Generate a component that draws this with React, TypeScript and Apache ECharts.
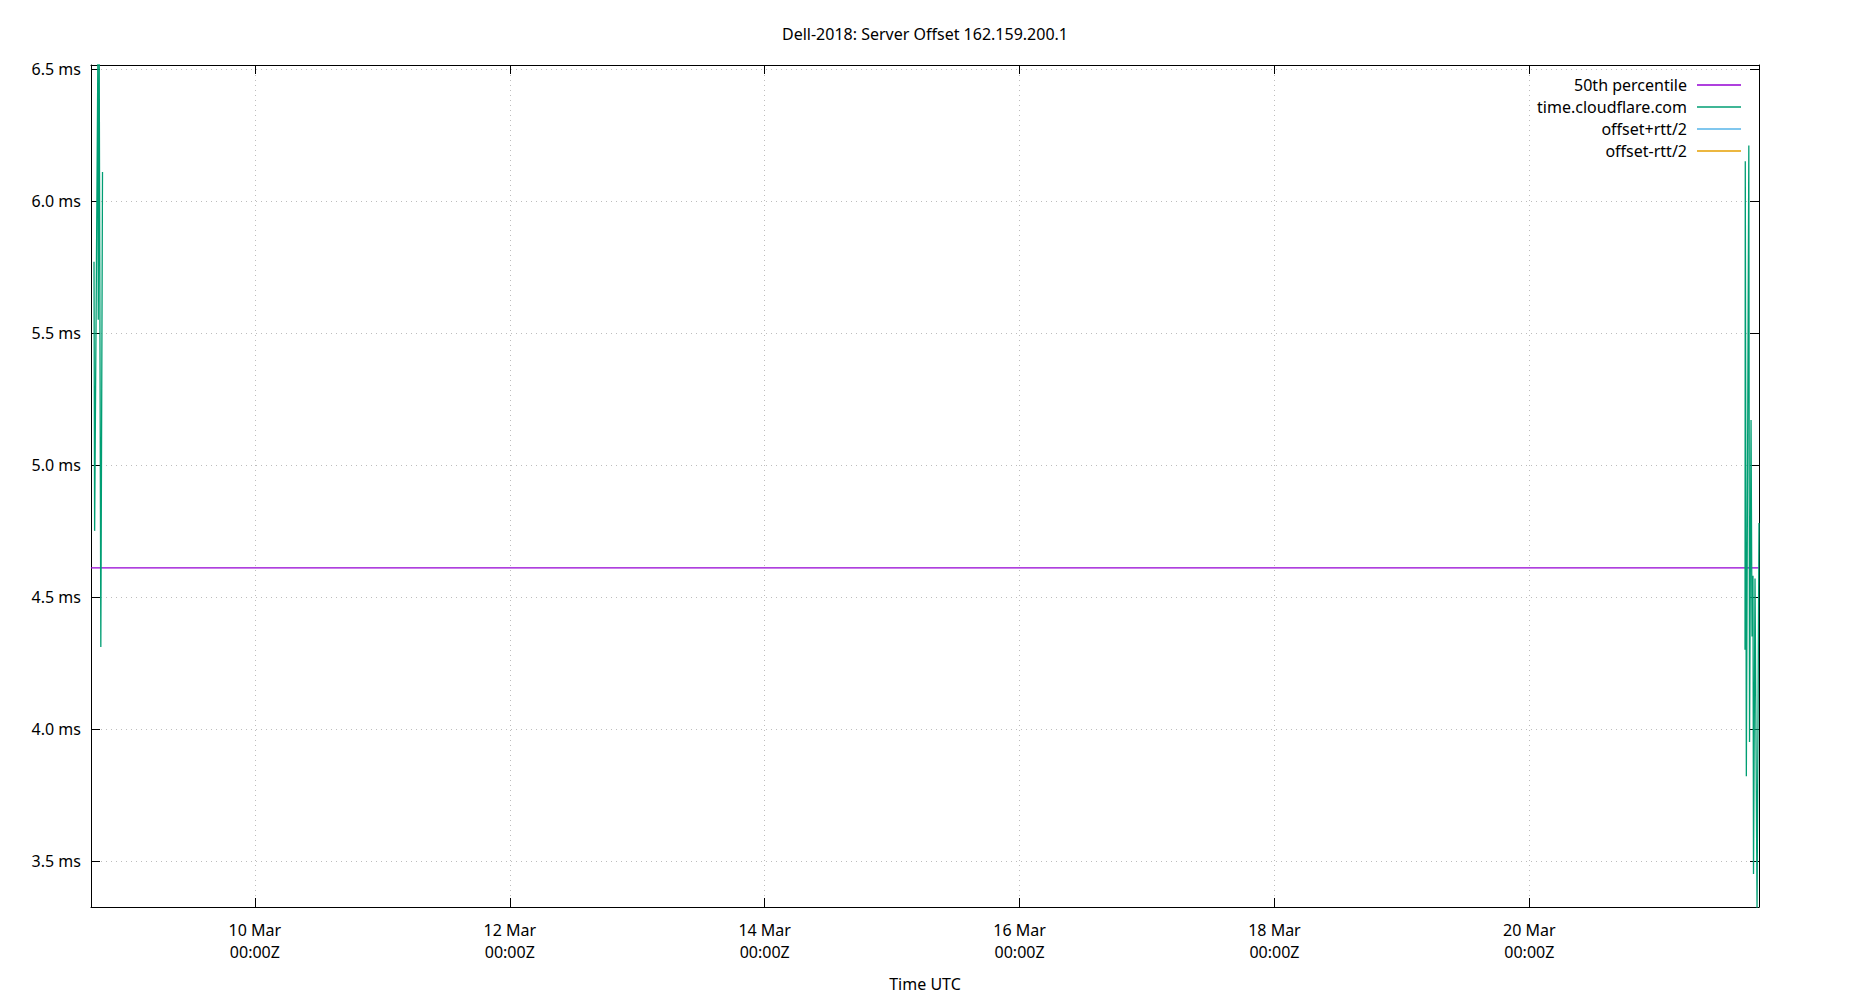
import React, { useEffect, useRef } from "react";
import * as echarts from "echarts";

const TITLE = "Dell-2018: Server Offset 162.159.200.1";
const X_NAME = "Time UTC";
const FONT = "Noto Sans";

const X_MIN = "2024-03-08T17:08:00Z";
const X_MAX = "2024-03-21T19:15:00Z";
const Y_MIN = 3.325;
const Y_MAX = 6.515;

const xTickDates = [
  "2024-03-10T00:00:00Z",
  "2024-03-12T00:00:00Z",
  "2024-03-14T00:00:00Z",
  "2024-03-16T00:00:00Z",
  "2024-03-18T00:00:00Z",
  "2024-03-20T00:00:00Z",
];
const yTicks = [3.5, 4.0, 4.5, 5.0, 5.5, 6.0, 6.5];

const seriesNames = ["50th percentile", "time.cloudflare.com", "offset+rtt/2", "offset-rtt/2"];
const seriesColors = ["#9400d3", "#009e73", "#56b4e9", "#e69f00"];

// 50th percentile (ms)
const medianValue = 4.61;

// time.cloudflare.com offset (ms); null marks a gap in the data
const offsetTimes = [
  "2024-03-08T17:42:00Z",
  "2024-03-08T17:49:00Z",
  "2024-03-08T18:25:00Z",
  "2024-03-08T18:30:00Z",
  "2024-03-08T18:41:00Z",
  "2024-03-08T18:59:00Z",
  "2024-03-08T19:18:00Z",
  "2024-03-15T00:00:00Z",
  "2024-03-21T16:37:00Z",
  "2024-03-21T16:40:00Z",
  "2024-03-21T16:52:00Z",
  "2024-03-21T17:20:00Z",
  "2024-03-21T17:28:00Z",
  "2024-03-21T17:45:00Z",
  "2024-03-21T17:56:00Z",
  "2024-03-21T18:07:00Z",
  "2024-03-21T18:13:00Z",
  "2024-03-21T18:30:00Z",
  "2024-03-21T18:53:00Z",
  "2024-03-21T19:15:00Z",
];
const offsetValues: (number | null)[] = [
  5.77, 4.75, 6.52, 5.55, 6.52, 4.31, 6.11,
  null,
  4.3, 6.15, 3.82, 6.21, 3.95, 5.17, 4.35, 4.58, 3.45, 4.57, 3.32, 4.78,
];

// offset +/- rtt/2 lie outside the plotted range
const plusTimes: string[] = [];
const plusValues: number[] = [];
const minusTimes: string[] = [];
const minusValues: number[] = [];

const MONTHS = ["Jan", "Feb", "Mar", "Apr", "May", "Jun", "Jul", "Aug", "Sep", "Oct", "Nov", "Dec"];
const pad = (n: number) => (n < 10 ? "0" + n : "" + n);
const fmtX = (v: number) => {
  const d = new Date(v);
  return `${d.getUTCDate()} ${MONTHS[d.getUTCMonth()]}\n${pad(d.getUTCHours())}:${pad(d.getUTCMinutes())}Z`;
};

const zip = (ts: string[], vs: (number | null)[]) => ts.map((t, i) => [Date.parse(t), vs[i]]);

export default function App() {
  const ref = useRef<HTMLDivElement>(null);
  useEffect(() => {
    if (!ref.current) return;
    const chart = echarts.init(ref.current, null, { renderer: "svg" });
    const xMin = Date.parse(X_MIN);
    const xMax = Date.parse(X_MAX);
    const xTicks = xTickDates.map((t) => Date.parse(t));
    const txt = { color: "#000", fontSize: 16, fontFamily: FONT };
    const axisLine = { show: true, onZero: false, lineStyle: { color: "#000", width: 1 } };
    const grid = { color: "#bdbdbd", width: 1, type: [1, 4] as any };

    chart.setOption({
      animation: false,
      backgroundColor: "#fff",
      title: {
        text: TITLE,
        left: "center",
        top: 21,
        textStyle: { ...txt, fontWeight: "normal" },
      },
      legend: {
        orient: "vertical",
        right: 109,
        top: 77,
        align: "right",
        icon: "rect",
        itemWidth: 44,
        itemHeight: 1.5,
        itemGap: 6,
        padding: 0,
        textStyle: { ...txt, lineHeight: 16, padding: [0, 5, 0, 0] },
        data: seriesNames,
      },
      grid: { left: 91, right: 91, top: 65, bottom: 93, containLabel: false },
      xAxis: [
        {
          type: "value",
          position: "bottom",
          min: xMin,
          max: xMax,
          axisLine,
          axisTick: { show: true, inside: true, length: 9, customValues: xTicks, lineStyle: { color: "#000" } },
          axisLabel: { customValues: xTicks, formatter: fmtX, ...txt, lineHeight: 22, margin: 12 },
          splitLine: { show: true, lineStyle: grid },
          name: X_NAME,
          nameLocation: "middle",
          nameGap: 69,
          nameTextStyle: txt,
        },
        {
          type: "value",
          position: "top",
          min: xMin,
          max: xMax,
          axisLine,
          axisTick: { show: true, inside: true, length: 9, customValues: xTicks, lineStyle: { color: "#000" } },
          axisLabel: { show: false, customValues: xTicks },
          splitLine: { show: false },
        },
      ],
      yAxis: [
        {
          type: "value",
          position: "left",
          min: Y_MIN,
          max: Y_MAX,
          axisLine,
          axisTick: { show: true, inside: true, length: 9, customValues: yTicks, lineStyle: { color: "#000" } },
          axisLabel: { customValues: yTicks, formatter: (v: number) => v.toFixed(1) + " ms", ...txt, margin: 10 },
          splitLine: { show: true, lineStyle: grid },
        },
        {
          type: "value",
          position: "right",
          min: Y_MIN,
          max: Y_MAX,
          axisLine,
          axisTick: { show: true, inside: true, length: 9, customValues: yTicks, lineStyle: { color: "#000" } },
          axisLabel: { show: false, customValues: yTicks },
          splitLine: { show: false },
        },
      ],
      series: [
        {
          name: seriesNames[0],
          type: "line",
          symbol: "none",
          color: seriesColors[0],
          lineStyle: { width: 1.3, color: seriesColors[0] },
          data: [
            [xMin, medianValue],
            [xMax, medianValue],
          ],
        },
        {
          name: seriesNames[1],
          type: "line",
          symbol: "none",
          connectNulls: false,
          color: seriesColors[1],
          lineStyle: { width: 1.3, color: seriesColors[1] },
          data: zip(offsetTimes, offsetValues),
        },
        {
          name: seriesNames[2],
          type: "line",
          symbol: "none",
          color: seriesColors[2],
          lineStyle: { width: 1.3, color: seriesColors[2] },
          data: zip(plusTimes, plusValues),
        },
        {
          name: seriesNames[3],
          type: "line",
          symbol: "none",
          color: seriesColors[3],
          lineStyle: { width: 1.3, color: seriesColors[3] },
          data: zip(minusTimes, minusValues),
        },
      ],
    });
    return () => chart.dispose();
  }, []);
  return (
    <div
      ref={ref}
      style={{ position: "absolute", left: 0, top: 0, width: 1850, height: 1000, background: "#fff" }}
    />
  );
}
